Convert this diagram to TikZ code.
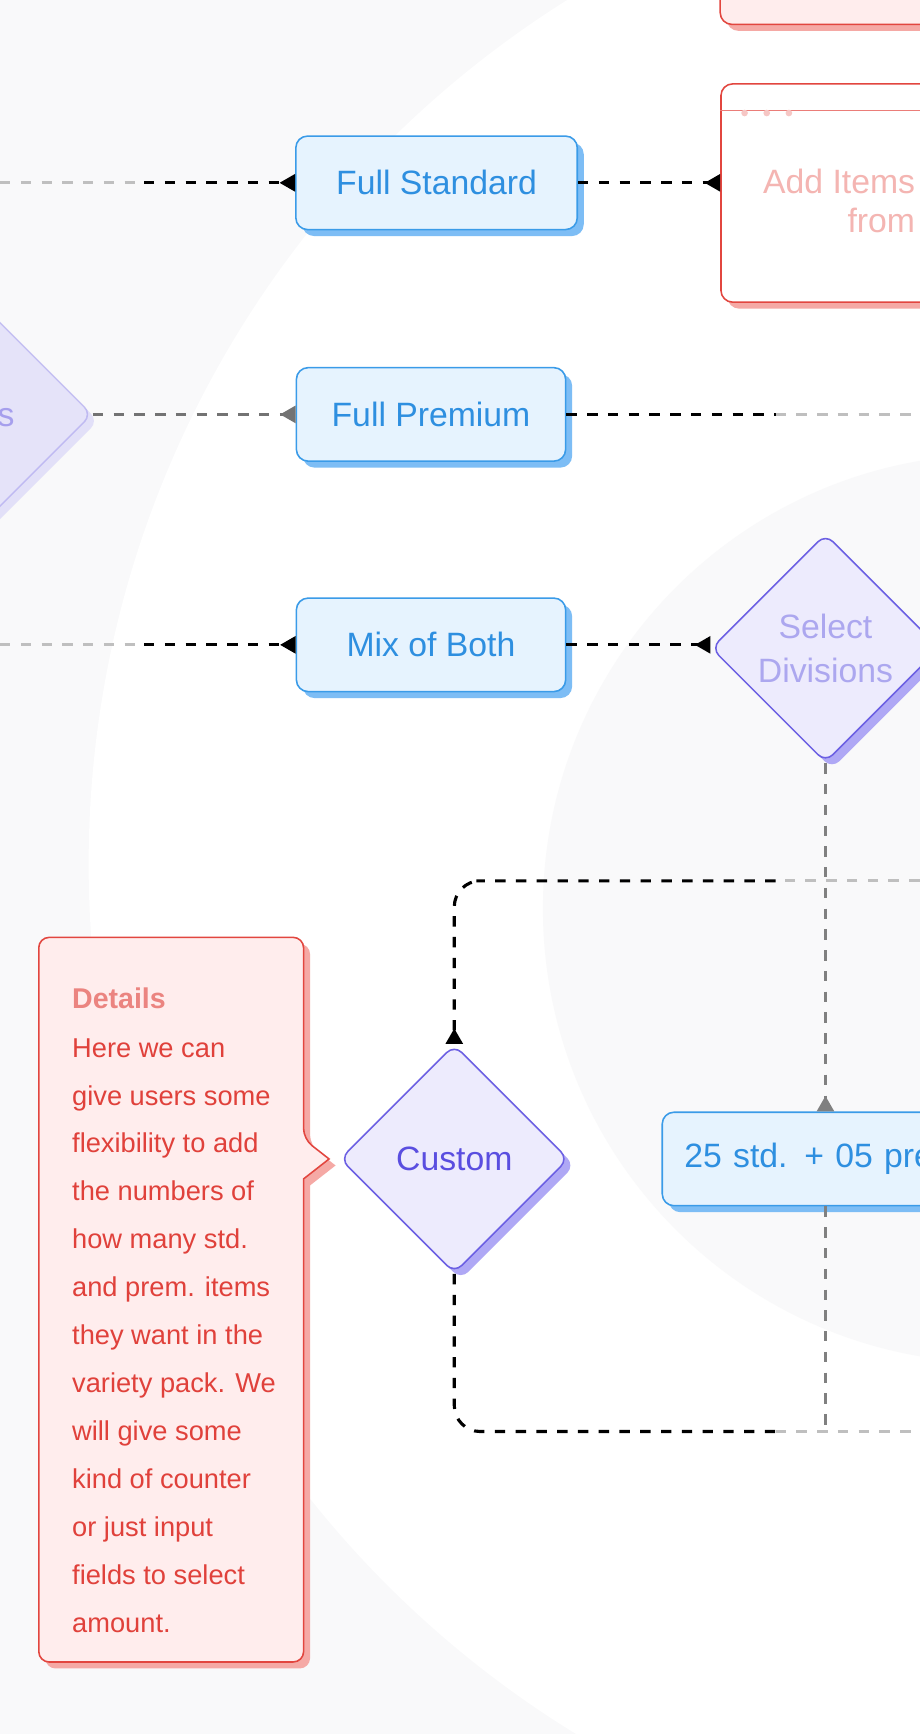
\documentclass[tikz,border=0pt]{standalone}
\usepackage{fontspec}
\setmainfont{Liberation Sans}
\usetikzlibrary{positioning,shapes.geometric,arrows.meta}
\definecolor{boxblue}{HTML}{E6F3FE}
\definecolor{lineblue}{HTML}{3A9BE8}
\definecolor{shadeblue}{HTML}{7DBDF5}
\definecolor{textblue}{HTML}{2E8FE0}
\definecolor{boxlav}{HTML}{EDEBFD}
\definecolor{linelav}{HTML}{6C60E3}
\definecolor{shadelav}{HTML}{AFA8F5}
\definecolor{textlav}{HTML}{5A4EE0}
\definecolor{boxpink}{HTML}{FFEDED}
\definecolor{linered}{HTML}{E2463F}
\definecolor{shadered}{HTML}{F5A9A5}
\definecolor{textred}{HTML}{E0413B}
\definecolor{bgcircle}{HTML}{F9F9FA}
\tikzset{
  >={Triangle[reversed,length=12pt,width=13pt]},
  every node/.style={font=\fontsize{26}{30}\selectfont},
  choice/.style={draw=lineblue, line width=1.2pt, fill=boxblue, rounded corners=9pt,
    text=textblue, minimum height=72pt, inner xsep=0pt,
    preaction={fill=shadeblue, draw=none, transform canvas={xshift=5pt,yshift=-5pt}}},
  decision/.style={diamond, aspect=1, draw=linelav, line width=1.2pt, fill=boxlav,
    rounded corners=8pt, text=textlav, minimum size=176pt, inner sep=0pt,
    preaction={fill=shadelav, draw=none, transform canvas={xshift=5pt,yshift=-5pt}}},
  flow/.style={line width=2.4pt, dash pattern=on 8pt off 8pt},
  note/.style={font=\fontsize{21}{24}\selectfont, text=textred, anchor=base west}
}
\begin{document}
\begin{tikzpicture}[x=0.03cm,y=-0.03cm]
  \useasboundingbox[fill=bgcircle] (0,0) rectangle (830,1565);
  % background circles
  \fill[white] (1000,780) circle (920);
  \fill[bgcircle] (900,820) circle (410);

  % red cards on the right
  \draw[linered, line width=1.2pt, fill=boxpink, rounded corners=9pt,
    preaction={fill=shadered, draw=none, transform canvas={xshift=5pt,yshift=-5pt}}]
    (650,-60) rectangle (900,22);
  \node[draw=linered, line width=1.2pt, fill=white, rounded corners=9pt,
    minimum width=250*0.03cm, minimum height=197*0.03cm, anchor=north west,
    preaction={fill=shadered, draw=none, transform canvas={xshift=5pt,yshift=-5pt}}]
    (additems) at (650,75) {};
  \draw[linered!70, line width=1pt] (650,100) -- (900,100);
  \foreach \x in {672,692,712} \fill[linered!30] (\x,102) circle (3);
  \node[text=linered!40, align=right, anchor=east] (additemstext) at (830,181)
    {Add Items\\from};
  \coordinate (addin) at (additems.west |- 0,165);

  % choices
  \node[choice, minimum width=254*0.03cm] (fullstd) at (394,165) {Full Standard};
  \node[choice, minimum width=243*0.03cm] (fullprem) at (389,374) {Full Premium};
  \node[choice, minimum width=243*0.03cm] (mix) at (389,582) {Mix of Both};

  % decisions
  \node[decision, opacity=0.3, text opacity=0.45] (leftdec) at (-20,374) {\phantom{Divi}s};
  \node[decision, text=textlav!50, font=\fontsize{26}{34}\selectfont, align=center]
    (seldiv) at (745,585) {Select\\Divisions};
  \node[decision] (custom) at (410,1046) {Custom};

  % mixed box
  \node[choice, minimum width=300*0.03cm, anchor=west, text width=260*0.03cm,
    align=left, inner xsep=10pt] (counts) at (597,1046) {25 std. + 05 prem.};

  % connectors
  \coordinate (lft1) at (0,165);
  \coordinate (lft3) at (0,582);
  \coordinate (rgt2) at (830,374);
  \coordinate (loopup) at (830,795);
  \coordinate (loopdn) at (830,1292);
  \draw[flow, gray!50] (lft1) -- (130,165);
  \draw[flow, ->] (130,165) -- (fullstd.west);
  \draw[flow, ->] (fullstd.east) -- (addin);
  \draw[flow, ->, gray!90!black] (leftdec.east) -- (fullprem.west);
  \draw[flow] (fullprem.east) -- (700,374);
  \draw[flow, gray!50] (700,374) -- (rgt2);
  \draw[flow, gray!50] (lft3) -- (130,582);
  \draw[flow, ->] (130,582) -- (mix.west);
  \draw[flow, ->] (mix.east) -- (mix.east -| seldiv.west);
  \draw[flow, gray, ->] (seldiv.south) -- (counts.north -| seldiv.south);
  \draw[flow, gray] (counts.south -| seldiv.south) -- (745,1292);
  \draw[flow, ->] (700,795) -- (430,795) [rounded corners=20pt] -- (410,795) -- (custom.north);
  \draw[flow, gray!50] (loopup) -- (700,795);
  \draw[flow, rounded corners=20pt] (custom.south) -- (410,1292) -- (700,1292);
  \draw[flow, gray!50] (700,1292) -- (loopdn);

  % details note
  \draw[linered, line width=1.2pt, fill=boxpink, rounded corners=8pt,
    preaction={fill=shadered, draw=none, transform canvas={xshift=5pt,yshift=-5pt}}]
    (35,846) -- (274,846) -- (274,1028) [sharp corners] -- (297,1046) -- (274,1064)
    [rounded corners=8pt] -- (274,1500) -- (35,1500) -- cycle;
  \node[note, font=\fontsize{22}{24}\selectfont\bfseries, text=textred!65] (dtitle) at (61,910) {Details};
  \foreach \t [count=\i] in {Here we can, give users some, flexibility to add,
      the numbers of, how many std., and prem. items, they want in the,
      variety pack. We, will give some, kind of counter, or just input,
      fields to select, amount.}
    \node[note] (dline\i) at (61,{954+43.3*(\i-1)}) {\t};
\end{tikzpicture}
\end{document}
